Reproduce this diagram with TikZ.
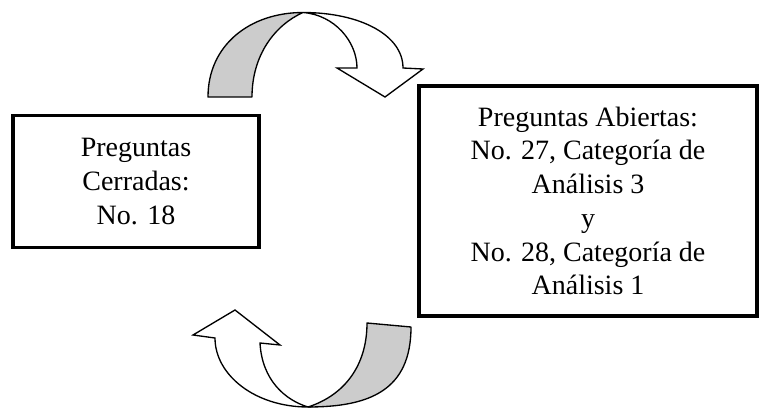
\documentclass[tikz,border=0pt]{standalone}
\usepackage{fontspec}
\setmainfont{Liberation Serif}
\begin{document}
\begin{tikzpicture}[x=0.75pt,y=-0.75pt,
  boxstyle/.style={draw=black, line width=2.4pt, fill=white, align=center, inner sep=0pt,
    font=\fontsize{21}{25.3}\selectfont},
  backband/.style={draw=black, line width=1pt, fill=black!20, line join=round},
  frontband/.style={draw=black, line width=1pt, fill=white, line join=miter}]
\useasboundingbox (0,0) rectangle (760,410);

% boxes
\node[boxstyle, minimum width=184.5pt, minimum height=98.5pt] (cerradas) at (136,181.5)
  {Preguntas\\Cerradas:\\No. 18};
\node[boxstyle, minimum width=253.5pt, minimum height=172.5pt] (abiertas) at (588,201)
  {Preguntas Abiertas:\\No. 27, Categoría de\\Análisis 3\\y\\No. 28, Categoría de\\Análisis 1};

% top curved arrow
\coordinate (tp) at (303,12.5);
\path[backband] (208,97) .. controls (208,45) and (250,12.5) .. (tp)
  .. controls (275,25) and (252,55) .. (252,97) -- cycle;
\path[frontband] (tp) .. controls (360,12.5) and (403,35) .. (403,68)
  -- (423,69) -- (385,97) -- (337,68) -- (357,68)
  .. controls (357,42) and (335,15) .. (tp) -- cycle;

% bottom curved arrow
\coordinate (bq) at (308,407);
\path[backband] (411,327) .. controls (411,390) and (370,407) .. (bq)
  .. controls (345,395) and (367,365) .. (367,323) -- cycle;
\path[frontband] (bq) .. controls (255,407) and (215,375) .. (215,338)
  -- (193,335) -- (235,310) -- (280,345) -- (260,343)
  .. controls (262,380) and (285,400) .. (bq) -- cycle;
\end{tikzpicture}
\end{document}
